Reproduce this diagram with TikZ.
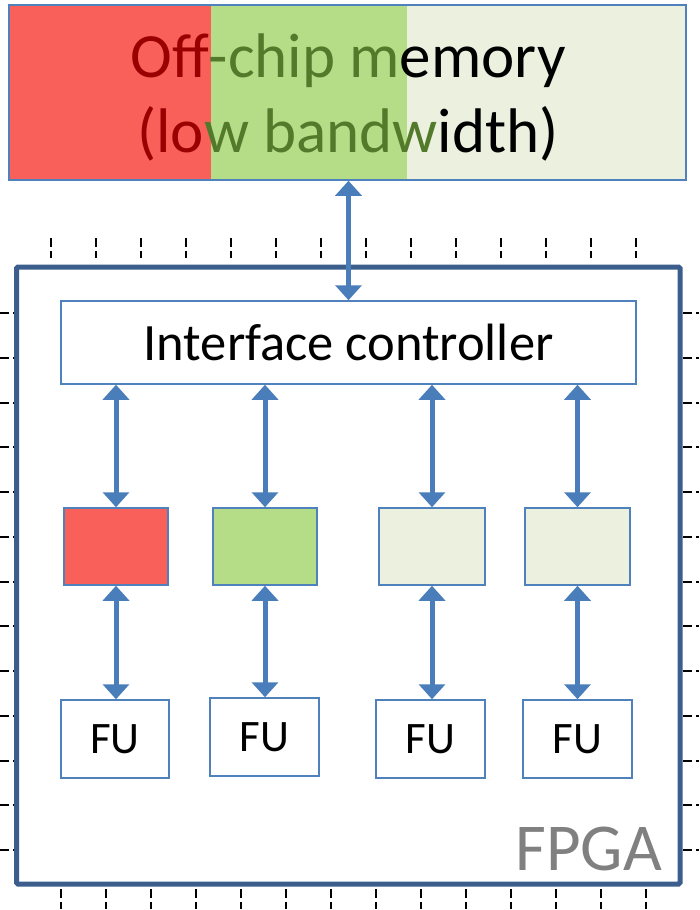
\documentclass[tikz,border=0pt]{standalone}
\usepackage{fontspec}
\setmainfont{Carlito}
\usetikzlibrary{arrows.meta}
\definecolor{memred}{RGB}{249,96,90}
\definecolor{memgreen}{RGB}{181,221,136}
\definecolor{memlight}{RGB}{235,240,223}
\definecolor{txtred}{RGB}{155,0,0}
\definecolor{txtgreen}{RGB}{82,122,42}
\definecolor{boxblue}{RGB}{79,129,189}
\definecolor{arrowblue}{RGB}{74,126,187}
\definecolor{fpgablue}{RGB}{59,94,140}
\definecolor{fpgagray}{RGB}{128,128,128}
\tikzset{
  thinbox/.style={draw=boxblue, line width=1.5pt, inner sep=0pt},
  buf/.style={thinbox, minimum width=104pt, minimum height=77pt},
  fubox/.style={thinbox, fill=white, minimum width=108pt, minimum height=78pt, font=\fontsize{45}{54}\selectfont},
  link/.style={draw=arrowblue, line width=5pt, {Triangle[width=26pt,length=15pt]}-{Triangle[width=26pt,length=15pt]}, shorten <=0pt, shorten >=0pt},
  pin/.style={draw=black, line width=2pt, dash pattern=on 9pt off 4pt on 7pt off 20pt},
}
\begin{document}
\begin{tikzpicture}[x=1pt,y=-1pt]
\useasboundingbox (0,0) rectangle (699,910);
% off-chip memory
\fill[memred] (9,5) rectangle (211,180);
\fill[memgreen] (211,5) rectangle (407,180);
\fill[memlight] (407,5) rectangle (686,180);
\node[draw=boxblue, line width=1.5pt, minimum width=677pt, minimum height=175pt, inner sep=0pt] (mem) at (347.5,92.5) {};
\node[anchor=base, font=\fontsize{63}{75}\selectfont, inner sep=0pt] (memt1) at (348,77) {\textcolor{txtred}{Off}\textcolor{txtgreen}{-chip m}emory};
\node[anchor=base, font=\fontsize{63}{75}\selectfont, inner sep=0pt] (memt2) at (348,152) {\textcolor{txtred}{(lo}\textcolor{txtgreen}{w bandw}idth)};
% pins top
\foreach \k in {0,...,13} {
  \draw[pin] ({51+45*\k},238) -- ({51+45*\k},258);
  \draw[pin] ({61+45*\k},889) -- ({61+45*\k},909);
}
\foreach \k in {0,...,12} {
  \draw[pin] (0,{313+44.75*\k}) -- (16,{313+44.75*\k});
  \draw[pin] (683,{313+44.75*\k}) -- (699,{313+44.75*\k});
}
% FPGA
\node[draw=fpgablue, line width=5pt, rounded corners=1.5pt, fill=white, minimum width=663.5pt, minimum height=617pt, inner sep=0pt] (fpga) at (348.25,575.5) {};
\node[anchor=base east, text=fpgagray, font=\fontsize{67}{80}\selectfont, inner sep=0pt] (fpgalabel) at (662,870) {FPGA};
% interface controller
\node[thinbox, fill=white, minimum width=575pt, minimum height=83pt, font=\fontsize{52.5}{63}\selectfont] (ctrl) at (348.5,342.5) {Interface controller};
% buffers
\node[buf, fill=memred] (b1) at (116,546.5) {};
\node[buf, fill=memgreen] (b2) at (265,546.5) {};
\node[buf, fill=memlight, minimum width=106pt] (b3) at (432,546.5) {};
\node[buf, fill=memlight, minimum width=105pt] (b4) at (577.5,546.5) {};
% FUs
\node[fubox] (f1) at (115,739) {FU};
\node[fubox, minimum width=109pt] (f2) at (264.5,737) {FU};
\node[fubox, minimum width=109pt] (f3) at (430.5,739) {FU};
\node[fubox, minimum width=109pt] (f4) at (577.5,739) {FU};
% connectors
\draw[link] (mem.south -| ctrl.north) -- (ctrl.north);
\foreach \i in {1,...,4} {
  \draw[link] (ctrl.south -| b\i.north) -- (b\i.north);
  \draw[link] (b\i.south) -- (f\i.north -| b\i.south);
}
\end{tikzpicture}
\end{document}
